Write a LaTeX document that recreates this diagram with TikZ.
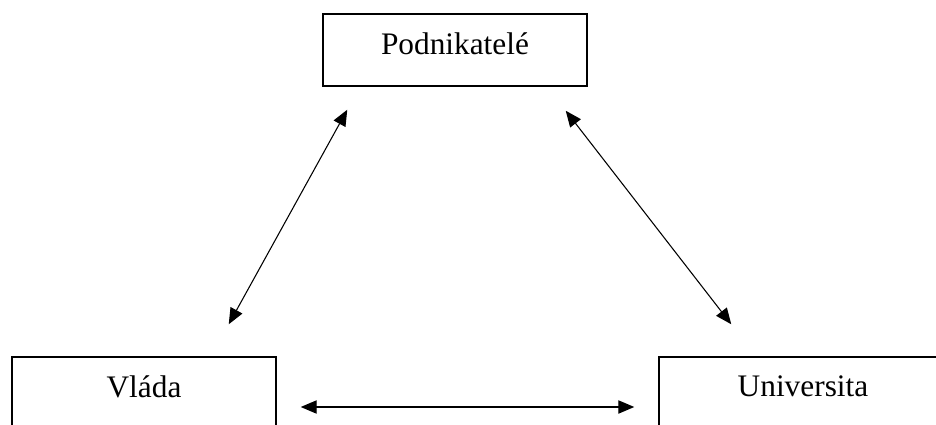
\documentclass[tikz,border=0pt]{standalone}
\usepackage{fontspec}
\setmainfont{Liberation Serif}
\usetikzlibrary{arrows.meta}

\begin{document}
\begin{tikzpicture}[x=0.75pt, y=-0.75pt,
    party/.style={draw=black, line width=1.1pt, minimum height=54pt, text depth=10pt,
      font=\fontsize{23.5}{28}\selectfont},
    link/.style={{Triangle[length=12pt,width=10pt]}-{Triangle[length=12pt,width=10pt]}, line width=0.8pt}]
  \clip (0,0) rectangle (936,425);

  \node[party, minimum width=198pt] (podn) at (455,50) {Podnikatelé};
  \node[party, minimum width=198pt] (vlada) at (144,393) {Vláda};
  \node[party, minimum width=216pt] (univ) at (803,393) {Universita};

  \draw[link] ([shift={(25,23)}]podn.south west) -- ([shift={(-48,-32)}]vlada.north east);
  \draw[link] ([shift={(-22,24)}]podn.south east) -- ([shift={(73,-32)}]univ.north west);
  \draw[link] ([shift={(24,14)}]vlada.east) -- ([shift={(-24,14)}]univ.west);

\end{tikzpicture}
\end{document}
